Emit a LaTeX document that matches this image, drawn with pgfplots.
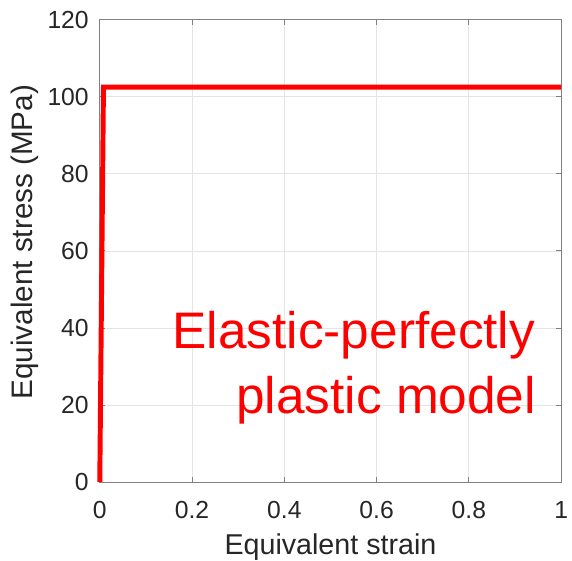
\documentclass[border=0pt]{standalone}
\usepackage{pgfplots}
\pgfplotsset{compat=1.18}
\usepackage{fontspec}
\setmainfont{Liberation Sans}
\definecolor{txtgray}{RGB}{38,38,38}
\definecolor{axgray}{RGB}{128,128,128}
\definecolor{gridgray}{RGB}{228,228,228}
\begin{document}
\begin{tikzpicture}
\begin{axis}[
  name=ax,
  scale only axis,
  width=467pt, height=468pt,
  xmin=0, xmax=1, ymin=0, ymax=120,
  xtick={0,0.2,0.4,0.6,0.8,1},
  ytick={0,20,40,60,80,100,120},
  /pgf/number format/assume math mode=true,
  xticklabels={0,0.2,0.4,0.6,0.8,1},
  grid=major,
  major grid style={draw=gridgray, line width=0.8pt},
  axis line style={draw=axgray, line width=0.9pt},
  tick style={draw=axgray, line width=0.9pt},
  tick align=inside,
  major tick length=5pt,
  ticklabel style={font=\fontsize{25}{30}\selectfont, text=txtgray},
  xticklabel style={anchor=base, inner sep=0pt, yshift=-37pt},
  yticklabel style={anchor=east, inner sep=0pt, xshift=-11pt},
  xlabel={Equivalent strain},
  ylabel={Equivalent stress (MPa)},
  label style={text=txtgray},
  xlabel style={font=\fontsize{29}{34}\selectfont, at={(axis description cs:0.5,0)}, anchor=base, inner sep=0pt, yshift=-73pt},
  ylabel style={font=\fontsize{30}{35}\selectfont, at={(axis description cs:-0.1627,0.519)}, anchor=center, inner sep=0pt},
  clip=false,
]
\addplot[red, line width=5pt, line join=miter] coordinates {(0,0) (0.008,102.5) (1,102.5)};
\node[anchor=base east, inner sep=0pt, text=red, font=\fontsize{52}{62}\selectfont] at (axis cs:0.944,34.6) {Elastic-perfectly};
\node[anchor=base east, inner sep=0pt, text=red, font=\fontsize{52}{62}\selectfont] at (axis cs:0.946,17.9) {plastic model};
\end{axis}
\pgfresetboundingbox
\path[use as bounding box] ([xshift=-101pt,yshift=-79pt]ax.south west) rectangle ([xshift=11pt,yshift=20pt]ax.north east);
\end{tikzpicture}
\end{document}
